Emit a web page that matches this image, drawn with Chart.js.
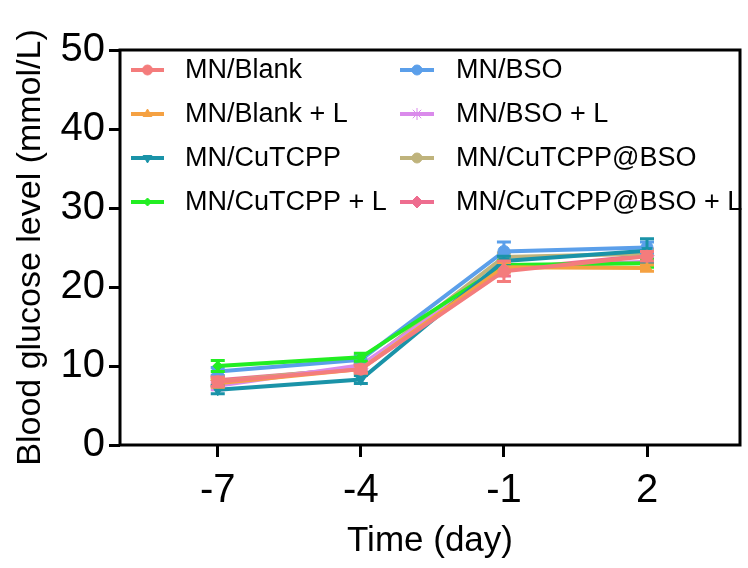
<!DOCTYPE html>
<html><head><meta charset="utf-8">
<script src="https://cdn.jsdelivr.net/npm/chart.js@4.4.0/dist/chart.umd.min.js"></script>
<style>html,body{margin:0;padding:0;background:#fff;}#wrap{width:748px;height:568px;position:relative;}</style>
</head><body><div id="wrap"><canvas id="c"></canvas></div>
<script>
// ---- data ----
const days = [-7, -4, -1, 2];
const xTickValues = [-7, -4, -1, 2];
const seriesNames = ["MN/Blank", "MN/Blank + L", "MN/CuTCPP", "MN/CuTCPP + L",
                     "MN/BSO", "MN/BSO + L", "MN/CuTCPP@BSO", "MN/CuTCPP@BSO + L"];
const mnBlank        = [8.0, 9.6, 22.0, 23.9];
const mnBlankL       = [7.8, 9.6, 22.5, 22.4];
const mnCuTCPP       = [7.0, 8.3, 23.3, 24.6];
const mnCuTCPPL      = [10.0, 11.1, 22.8, 23.0];
const mnBSO          = [9.3, 10.8, 24.5, 25.0];
const mnBSOL         = [7.5, 10.1, 22.5, 23.2];
const mnCuBSO        = [8.0, 9.8, 23.8, 24.2];
const mnCuBSOL       = [8.2, 9.7, 22.2, 24.0];
const mnBlankErr     = [0.6, 0.5, 1.3, 0.6];
const mnBlankLErr    = [0.5, 0.5, 0.6, 0.4];
const mnCuTCPPErr    = [0.5, 0.5, 0.6, 1.5];
const mnCuTCPPLErr   = [0.7, 0.5, 0.6, 0.5];
const mnBSOErr       = [0.5, 0.5, 1.2, 0.7];
const mnBSOLErr      = [0.5, 0.5, 0.6, 0.5];
const mnCuBSOErr     = [0.5, 0.5, 0.5, 0.5];
const mnCuBSOLErr    = [0.5, 0.5, 0.8, 0.8];

const values = [mnBlank, mnBlankL, mnCuTCPP, mnCuTCPPL, mnBSO, mnBSOL, mnCuBSO, mnCuBSOL];
const errors = [mnBlankErr, mnBlankLErr, mnCuTCPPErr, mnCuTCPPLErr, mnBSOErr, mnBSOLErr, mnCuBSOErr, mnCuBSOLErr];
const colors = ["#F47C7C", "#F5A142", "#1A93A8", "#22EE22", "#5B9FEA", "#DA8AEB", "#BFB37C", "#EE6D8F"];
const styles = ["circle", "triangle", "triangle", "rectRot", "circle", "star", "circle", "rectRot"];
const rotations = [0, 0, 180, 0, 0, 0, 0, 0];
const radii = [6, 6, 6, 5, 6, 7, 6, 7];

const FONT = "'Liberation Sans', Arial, sans-serif";

const datasets = seriesNames.map((name, i) => ({
  label: name,
  data: days.map((d, j) => ({x: d, y: values[i][j]})),
  errs: errors[i],
  borderColor: colors[i],
  backgroundColor: colors[i],
  pointBackgroundColor: colors[i],
  pointBorderColor: colors[i],
  borderWidth: 4,
  pointStyle: styles[i],
  pointRotation: rotations[i],
  pointRadius: radii[i],
  pointBorderWidth: 1,
  tension: 0,
  fill: false
}));

const errorBars = {
  id: 'errorBars',
  beforeDatasetDraw(chart, args) {
    const ds = chart.data.datasets[args.index];
    const xs = chart.scales.x, ys = chart.scales.y;
    const ctx = chart.ctx;
    ctx.save();
    ctx.strokeStyle = ds.borderColor;
    ctx.lineWidth = 3;
    ds.data.forEach((p, j) => {
      const e = ds.errs[j];
      const px = xs.getPixelForValue(p.x);
      const y1 = ys.getPixelForValue(p.y + e);
      const y2 = ys.getPixelForValue(p.y - e);
      ctx.beginPath();
      ctx.moveTo(px, y1); ctx.lineTo(px, y2);
      ctx.moveTo(px - 7, y1); ctx.lineTo(px + 7, y1);
      ctx.moveTo(px - 7, y2); ctx.lineTo(px + 7, y2);
      ctx.stroke();
    });
    ctx.restore();
  }
};

const frame = {
  id: 'frame',
  afterDraw(chart) {
    const a = chart.chartArea, ctx = chart.ctx;
    ctx.save();
    ctx.strokeStyle = '#000';
    ctx.lineWidth = 3;
    ctx.strokeRect(a.left, a.top, a.right - a.left, a.bottom - a.top);
    ctx.restore();
  }
};

const legendBox = {
  id: 'legendBox',
  afterDraw(chart) {
    const ctx = chart.ctx;
    const colLine = [[131, 164], [400, 434]];
    const colText = [185, 456];
    ctx.save();
    ctx.font = "27px " + FONT;
    ctx.textBaseline = 'middle';
    ctx.fillStyle = '#000';
    chart.data.datasets.forEach((ds, i) => {
      const col = Math.floor(i / 4), row = i % 4;
      const y = 70 + row * 44;
      const [x0, x1] = colLine[col];
      ctx.strokeStyle = ds.borderColor;
      ctx.lineWidth = 4;
      ctx.beginPath(); ctx.moveTo(x0, y); ctx.lineTo(x1, y); ctx.stroke();
      ctx.fillStyle = ds.borderColor;
      ctx.lineWidth = 1;
      Chart.helpers.drawPoint(ctx, {pointStyle: ds.pointStyle, radius: ds.pointRadius - 1, rotation: ds.pointRotation, borderWidth: 1}, (x0 + x1) / 2, y);
      ctx.fillStyle = '#000';
      ctx.fillText(ds.label, colText[col], y + 1);
    });
    ctx.restore();
  }
};

new Chart(document.getElementById('c'), {
  type: 'line',
  data: {datasets},
  plugins: [errorBars, frame, legendBox],
  options: {
    responsive: true,
    maintainAspectRatio: false,
    animation: false,
    layout: {padding: {top: 50, right: 3, left: 0, bottom: 0}},
    plugins: {legend: {display: false}, tooltip: {enabled: false}},
    scales: {
      x: {
        type: 'linear',
        min: -9.05, max: 3.95,
        afterBuildTicks: (ax) => { ax.ticks = xTickValues.map(v => ({value: v})); },
        afterFit: (s) => { s.height = 123; },
        border: {display: false},
        grid: {display: true, drawOnChartArea: false, drawTicks: true, tickLength: 12, color: '#000', lineWidth: 3},
        ticks: {color: '#000', font: {family: FONT, size: 40}, padding: 10, maxRotation: 0,
                callback: (v) => String(v)},
        title: {display: true, text: 'Time (day)', color: '#000', font: {family: FONT, size: 35}, padding: {top: 0, bottom: 6}}
      },
      y: {
        min: 0, max: 50,
        ticks: {stepSize: 10, color: '#000', font: {family: FONT, size: 40}, padding: 4},
        afterFit: (s) => { s.width = 120; },
        border: {display: false},
        grid: {display: true, drawOnChartArea: false, drawTicks: true, tickLength: 11, color: '#000', lineWidth: 3},
        title: {display: true, text: 'Blood glucose level (mmol/L)', color: '#000', font: {family: FONT, size: 34}, padding: {top: 10, bottom: 0}}
      }
    }
  }
});
</script></body></html>
